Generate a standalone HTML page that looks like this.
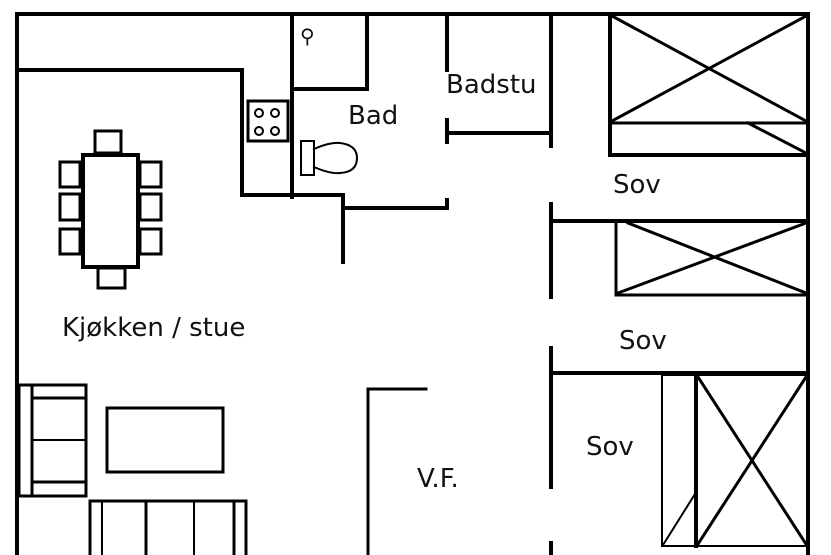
<!DOCTYPE html>
<html><head><meta charset="utf-8"><style>
html,body{margin:0;padding:0;background:#fff;}
svg{display:block;}
text{font-family:"DejaVu Sans","Liberation Sans",sans-serif;fill:#111;}
</style></head><body>
<svg width="831" height="555" viewBox="0 0 831 555" xmlns="http://www.w3.org/2000/svg">
<g stroke="#000" stroke-width="4" fill="none" stroke-linecap="square">
<line x1="17" y1="14" x2="808" y2="14"/>
<line x1="17" y1="14" x2="17" y2="555"/>
<line x1="808" y1="14" x2="808" y2="555"/>
<polyline points="17,70 242,70 242,195 292,195"/>
<line x1="292" y1="14" x2="292" y2="197"/>
<polyline points="292,89 367,89 367,14"/>
<polyline points="292,195 343,195 343,262"/>
<line x1="343" y1="208" x2="447" y2="208"/>
<line x1="447" y1="200" x2="447" y2="208"/>
<line x1="447" y1="14" x2="447" y2="70"/>
<line x1="447" y1="120" x2="447" y2="142"/>
<line x1="447" y1="133" x2="551" y2="133"/>
<line x1="551" y1="14" x2="551" y2="146"/>
<line x1="551" y1="204" x2="551" y2="297"/>
<line x1="551" y1="221" x2="808" y2="221"/>
<line x1="551" y1="348" x2="551" y2="487"/>
<line x1="551" y1="373" x2="808" y2="373"/>
<line x1="551" y1="543" x2="551" y2="555"/>
<polyline points="426,389 368,389 368,555" stroke-width="3"/>
<rect x="610" y="14" width="198" height="141"/>
<line x1="610" y1="123" x2="808" y2="123" stroke-width="3"/>
<line x1="612" y1="16" x2="806" y2="121" stroke-width="3"/>
<line x1="806" y1="16" x2="612" y2="121" stroke-width="3"/>
<line x1="748" y1="123" x2="806" y2="153" stroke-width="3"/>
<rect x="616" y="221" width="192" height="74" stroke-width="3"/>
<line x1="618" y1="293" x2="806" y2="223" stroke-width="3"/>
<line x1="628" y1="223" x2="806" y2="293" stroke-width="3"/>
<rect x="662" y="375" width="146" height="171" stroke-width="2"/>
<line x1="696" y1="375" x2="696" y2="546"/>
<line x1="698" y1="377" x2="806" y2="544" stroke-width="3"/>
<line x1="806" y1="377" x2="698" y2="544" stroke-width="3"/>
<line x1="663" y1="545" x2="695" y2="494" stroke-width="2"/>
<rect x="248" y="101" width="40" height="40" stroke-width="3"/>
<g stroke-width="2"><circle cx="259" cy="113" r="4"/><circle cx="275" cy="113" r="4"/><circle cx="259" cy="131" r="4"/><circle cx="275" cy="131" r="4"/></g>
<rect x="301" y="141" width="13" height="34" stroke-width="2"/>
<path d="M314,149 Q330,142 340,143 Q357,145 357,158 Q357,172 340,173 Q330,174 314,167" stroke-width="2"/>
<rect x="83" y="155" width="55" height="112" stroke-width="4"/>
<rect x="95" y="131" width="26" height="22" stroke-width="3"/>
<rect x="98" y="268" width="27" height="20" stroke-width="3"/>
<g stroke-width="3">
<rect x="60" y="162" width="20" height="25"/><rect x="60" y="194" width="20" height="26"/><rect x="60" y="229" width="20" height="25"/>
<rect x="140" y="162" width="21" height="25"/><rect x="140" y="194" width="21" height="26"/><rect x="140" y="229" width="21" height="25"/>
</g>
<rect x="19" y="385" width="67" height="111" stroke-width="3"/>
<line x1="32" y1="385" x2="32" y2="496" stroke-width="3"/>
<line x1="32" y1="398" x2="86" y2="398" stroke-width="3"/>
<line x1="32" y1="440" x2="86" y2="440" stroke-width="2"/>
<line x1="32" y1="482" x2="86" y2="482" stroke-width="3"/>
<rect x="107" y="408" width="116" height="64" stroke-width="3"/>
<polyline points="90,555 90,501 246,501 246,555" stroke-width="3"/>
<line x1="102" y1="501" x2="102" y2="555" stroke-width="2"/>
<line x1="146" y1="501" x2="146" y2="555" stroke-width="3"/>
<line x1="194" y1="501" x2="194" y2="555" stroke-width="2"/>
<line x1="234" y1="501" x2="234" y2="555" stroke-width="3"/>
</g>
<text x="300" y="43" font-size="20" font-weight="bold">⚲</text>
<g font-size="26">
<text x="348" y="124">Bad</text>
<text x="446" y="93">Badstu</text>
<text x="613" y="193">Sov</text>
<text x="619" y="349">Sov</text>
<text x="586" y="455">Sov</text>
<text x="417" y="487">V.F.</text>
<text x="62" y="336">Kjøkken / stue</text>
</g>
</svg>
</body></html>
